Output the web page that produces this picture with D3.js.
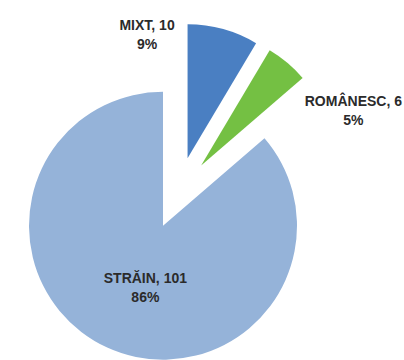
<!DOCTYPE html>
<html>
<head>
<meta charset="utf-8">
<script src="https://cdn.jsdelivr.net/npm/d3@7"></script>
<style>
  html, body { margin: 0; padding: 0; background: #ffffff; }
  svg { display: block; }
  .lbl { font-family: "Liberation Sans", Arial, sans-serif; font-weight: bold; font-size: 14px; fill: #2b2b2b; }
</style>
</head>
<body>
<svg id="chart" width="404" height="360"></svg>
<script>
// Categories and counts
const categories = ["MIXT", "ROMÂNESC", "STRĂIN"];
const values = [10, 6, 101];
const percentLabels = ["9%", "5%", "86%"];
const colors = ["#4a7fc2", "#74c043", "#95b3d9"];

// Label placement: angle (deg, clockwise from north) and distance from each slice's apex
const labelAngles = [-18, 70, 196];
const labelDistances = [131, 162, 64];

const width = 404, height = 360;
const cx = 178, cy = 193;
const radius = 134;
const explode = 36;

const svg = d3.select("#chart");
const g = svg.append("g").attr("transform", `translate(${cx},${cy})`);

const pie = d3.pie().sort(null).value(d => d.value).startAngle(0).endAngle(2 * Math.PI);
const arc = d3.arc().innerRadius(0).outerRadius(radius);

const data = categories.map((c, i) => ({ name: c, value: values[i], pct: percentLabels[i], color: colors[i], la: labelAngles[i], ld: labelDistances[i] }));
const arcs = pie(data);

const slice = g.selectAll("g.slice")
  .data(arcs)
  .join("g")
  .attr("class", "slice")
  .attr("transform", d => {
    const mid = (d.startAngle + d.endAngle) / 2;
    return `translate(${explode * Math.sin(mid)},${-explode * Math.cos(mid)})`;
  });

slice.append("path")
  .attr("d", arc)
  .attr("fill", d => d.data.color);

const lines = slice.append("text")
  .attr("class", "lbl")
  .attr("text-anchor", "middle")
  .attr("transform", d => {
    const a = d.data.la * Math.PI / 180;
    return `translate(${d.data.ld * Math.sin(a)},${-d.data.ld * Math.cos(a)})`;
  });

lines.append("tspan")
  .attr("x", 0)
  .attr("y", -4)
  .text(d => `${d.data.name}, ${d.data.value}`);

lines.append("tspan")
  .attr("x", 0)
  .attr("y", 15)
  .text(d => d.data.pct);
</script>
</body>
</html>
